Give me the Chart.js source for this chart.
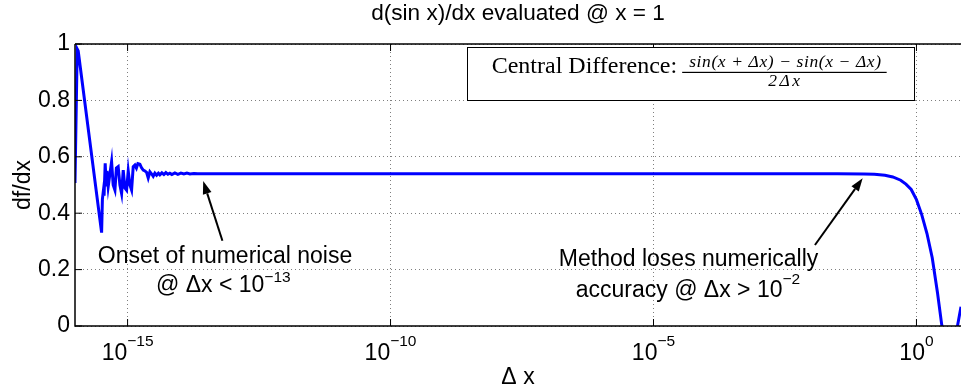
<!DOCTYPE html>
<html>
<head>
<meta charset="utf-8">
<script src="https://cdn.jsdelivr.net/npm/chart.js@4.4.1/dist/chart.umd.min.js"></script>
<style>
  html, body { margin: 0; padding: 0; background: #fff; }
  #wrap { width: 961px; height: 387px; }
</style>
</head>
<body>
<div id="wrap"><canvas id="chart" width="961" height="387"></canvas></div>
<script>
// step size as log10(dx), and the computed derivative
const dxExp = [
  -16.000, -15.958, -15.939, -15.494, -15.479, -15.460, -15.447, -15.426, -15.407, -15.393,
  -15.369, -15.336, -15.304, -15.274, -15.241, -15.213, -15.179, -15.146, -15.114, -15.083,
  -15.051, -15.019, -14.988, -14.956, -14.924, -14.893, -14.861, -14.832, -14.804, -14.766,
  -14.737, -14.703, -14.671, -14.639, -14.608, -14.576, -14.538, -14.513, -14.481, -14.448,
  -14.414, -14.386, -14.348, -14.310, -14.272, -14.234, -14.197, -14.158, -14.101, -14.044,
  -13.987, -13.930, -13.872, -13.815, -13.739, -13.663, -13.000, -10.000, -6.000, -3.000,
  -1.500, -1.000, -0.800, -0.600, -0.450, -0.300, -0.200, -0.100, 0.000, 0.100,
  0.200, 0.300, 0.400, 0.480, 0.550, 0.600, 0.650, 0.700, 0.740, 0.780, 0.847
];
const dfdx = [
  0.507, 0.982, 0.975, 0.331, 0.450, 0.480, 0.462, 0.577, 0.500, 0.550,
  0.494, 0.540, 0.583, 0.500, 0.482, 0.560, 0.565, 0.500, 0.470, 0.553,
  0.490, 0.482, 0.550, 0.500, 0.482, 0.565, 0.571, 0.560, 0.576, 0.574,
  0.562, 0.553, 0.550, 0.545, 0.525, 0.547, 0.538, 0.531, 0.542, 0.535,
  0.542, 0.536, 0.543, 0.537, 0.544, 0.538, 0.542, 0.537, 0.543, 0.538,
  0.542, 0.539, 0.542, 0.539, 0.541, 0.540, 0.5403, 0.5403, 0.5403, 0.5403,
  0.5401, 0.5394, 0.5378, 0.5345, 0.5285, 0.5170, 0.5030, 0.4840, 0.4480, 0.3950,
  0.3280, 0.2420, 0.1180, 0.0050, -0.0650, -0.0980, -0.1120, -0.0900, -0.0500, 0.0000, 0.0680
];
const xTickExp = [-15, -10, -5, 0];
const yTicks = [0, 0.2, 0.4, 0.6, 0.8, 1];

const SANS = '"Liberation Sans", Arial, Helvetica, sans-serif';
const SERIF = '"Liberation Serif", "Times New Roman", serif';
const FS = 23;

function supText(ctx, base, sup, cx, y, size, supSize, rise) {
  ctx.font = size + 'px ' + SANS;
  const wb = ctx.measureText(base).width;
  ctx.font = supSize + 'px ' + SANS;
  const ws = ctx.measureText(sup).width;
  const x0 = cx - (wb + ws) / 2;
  ctx.textAlign = 'left';
  ctx.font = size + 'px ' + SANS;
  ctx.fillText(base, x0, y);
  ctx.font = supSize + 'px ' + SANS;
  ctx.fillText(sup, x0 + wb, y - rise);
}

function arrow(ctx, x1, y1, x2, y2) {
  const a = Math.atan2(y2 - y1, x2 - x1);
  const len = 13, half = 4.5;
  const bx = x2 - len * Math.cos(a), by = y2 - len * Math.sin(a);
  ctx.strokeStyle = '#000';
  ctx.lineWidth = 2;
  ctx.beginPath();
  ctx.moveTo(x1, y1);
  ctx.lineTo(bx, by);
  ctx.stroke();
  ctx.fillStyle = '#000';
  ctx.beginPath();
  ctx.moveTo(x2, y2);
  ctx.lineTo(bx + half * Math.sin(a), by - half * Math.cos(a));
  ctx.lineTo(bx - half * Math.sin(a), by + half * Math.cos(a));
  ctx.closePath();
  ctx.fill();
}

const decor = {
  id: 'decor',
  afterDatasetsDraw(chart) {
    const ctx = chart.ctx;
    const a = chart.chartArea;
    const xs = chart.scales.x, ys = chart.scales.y;
    const px = e => xs.getPixelForValue(Math.pow(10, e));
    const py = v => ys.getPixelForValue(v);
    ctx.save();

    // axes box (right side falls outside the picture)
    ctx.strokeStyle = '#000';
    ctx.lineWidth = 1.5;
    ctx.beginPath();
    ctx.moveTo(a.left, a.top); ctx.lineTo(a.right, a.top);
    ctx.moveTo(a.left, a.top); ctx.lineTo(a.left, a.bottom);
    ctx.lineTo(a.right, a.bottom);
    ctx.stroke();

    // inward tick marks
    ctx.lineWidth = 1;
    ctx.beginPath();
    yTicks.forEach(v => { ctx.moveTo(a.left, py(v)); ctx.lineTo(a.left + 7, py(v)); });
    xTickExp.forEach(e => {
      ctx.moveTo(px(e), a.bottom); ctx.lineTo(px(e), a.bottom - 7);
      ctx.moveTo(px(e), a.top); ctx.lineTo(px(e), a.top + 7);
    });
    ctx.stroke();

    ctx.fillStyle = '#000';
    ctx.textBaseline = 'alphabetic';

    // x tick labels 10^n
    xTickExp.forEach(e => {
      supText(ctx, '10', e === 0 ? '0' : '\u2212' + Math.abs(e), px(e), 359.5, FS, 15.5, 14);
    });

    // title and axis titles
    ctx.textAlign = 'center';
    ctx.font = '22.6px ' + SANS;
    ctx.fillText('d(sin x)/dx evaluated @ x = 1', (a.left + a.right) / 2, 19.5);
    ctx.font = FS + 'px ' + SANS;
    ctx.fillText('\u0394 x', (a.left + a.right) / 2, 384);
    ctx.save();
    ctx.translate(30, (a.top + a.bottom) / 2);
    ctx.rotate(-Math.PI / 2);
    ctx.fillText('df/dx', 0, 0);
    ctx.restore();

    // legend box with formula
    const bl = px(-8.543), br = px(-0.048), bt = py(0.9883), bb = py(0.799);
    ctx.fillStyle = '#fff';
    ctx.fillRect(bl, bt, br - bl, bb - bt);
    ctx.strokeStyle = '#000';
    ctx.lineWidth = 1;
    ctx.strokeRect(Math.round(bl) + 0.5, Math.round(bt) + 0.5, Math.round(br - bl), Math.round(bb - bt));
    ctx.fillStyle = '#000';
    ctx.textAlign = 'left';
    ctx.font = '24px ' + SERIF;
    ctx.fillText('Central Difference:', bl + 24.5, bt + 26);
    const fx0 = bl + 215, fx1 = bl + 419.5, fcx = (fx0 + fx1) / 2;
    ctx.textAlign = 'center';
    ctx.font = 'italic 17.5px ' + SERIF;
    ctx.letterSpacing = '0.6px';
    ctx.fillText('sin(x + \u0394x) \u2212 sin(x \u2212 \u0394x)', fcx + 1, bt + 19.5);
    ctx.letterSpacing = '2.5px';
    ctx.fillText('2\u0394x', fcx + 1, bt + 39);
    ctx.letterSpacing = '0px';
    ctx.fillRect(fx0, bt + 24.5, fx1 - fx0, 1.2);

    // annotations
    arrow(ctx, px(-13.197), py(0.3025), px(-13.562), py(0.5142));
    arrow(ctx, px(-1.93), py(0.2872), px(-1.023), py(0.5238));
    ctx.textAlign = 'center';
    ctx.font = FS + 'px ' + SANS;
    ctx.fillText('Onset of numerical noise', px(-13.148), py(0.2245));
    supText(ctx, '@ \u0394x < 10', '\u221213', px(-13.18), py(0.1216), FS, 15.5, 10);
    ctx.textAlign = 'center';
    ctx.font = FS + 'px ' + SANS;
    ctx.fillText('Method loses numerically', px(-4.333), py(0.2128));
    supText(ctx, 'accuracy @ \u0394x > 10', '\u22122', px(-4.345), py(0.1039), FS, 15.5, 13);

    ctx.restore();
  }
};

new Chart(document.getElementById('chart'), {
  type: 'line',
  data: {
    datasets: [{
      label: 'central difference',
      data: dxExp.map((e, i) => ({ x: Math.pow(10, e), y: dfdx[i] })),
      borderColor: '#0000ff',
      borderWidth: 3,
      pointRadius: 0,
      tension: 0,
      fill: false
    }]
  },
  options: {
    responsive: false,
    animation: false,
    devicePixelRatio: 1,
    layout: { padding: { top: 44, right: 0, bottom: 0, left: 0 } },
    plugins: { legend: { display: false }, title: { display: false }, tooltip: { enabled: false } },
    scales: {
      x: {
        type: 'logarithmic',
        min: 1e-16,
        max: Math.pow(10, 0.847),
        afterBuildTicks: s => { s.ticks = xTickExp.map(e => ({ value: Math.pow(10, e) })); },
        afterFit: s => { s.height = 61; },
        ticks: { display: false },
        grid: { color: 'rgba(0,0,0,0.5)', lineWidth: 1, drawTicks: false },
        border: { display: false, dash: [1, 3] }
      },
      y: {
        min: 0,
        max: 1,
        afterBuildTicks: s => { s.ticks = yTicks.map(v => ({ value: v })); },
        afterFit: s => { s.width = 75; },
        ticks: {
          padding: 5,
          color: '#000',
          font: { family: SANS, size: FS },
          callback: v => String(Math.round(v * 10) / 10)
        },
        grid: { color: 'rgba(0,0,0,0.5)', lineWidth: 1, drawTicks: false },
        border: { display: false, dash: [1, 3] }
      }
    }
  },
  plugins: [decor]
});
</script>
</body>
</html>
